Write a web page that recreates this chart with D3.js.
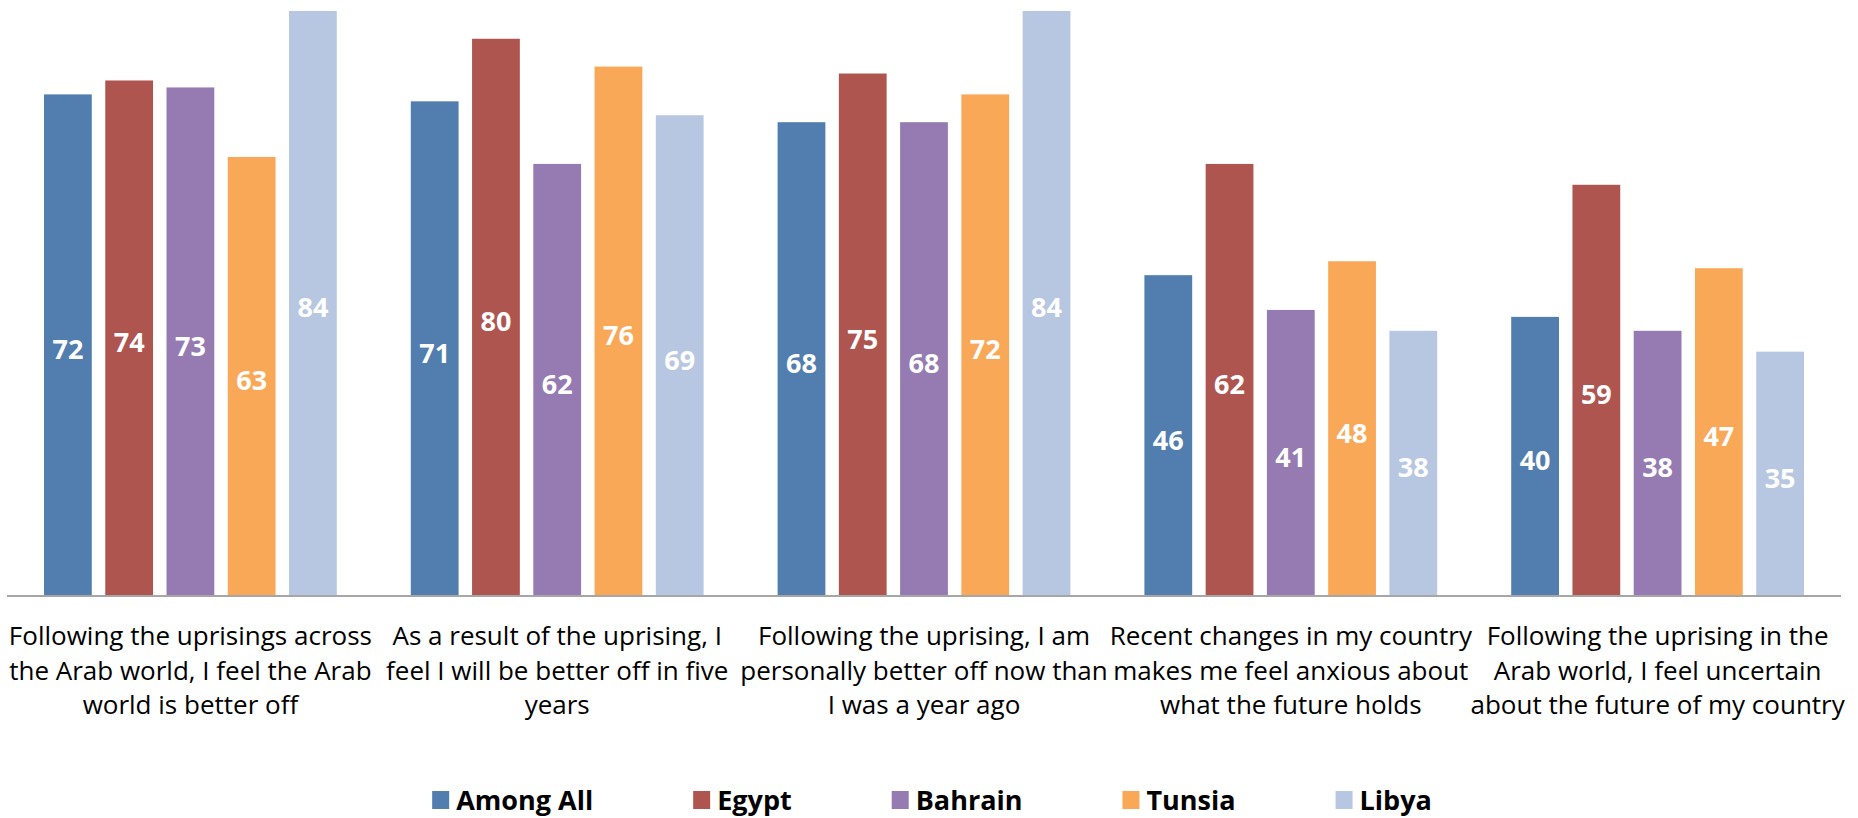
<!DOCTYPE html>
<html>
<head>
<meta charset="utf-8">
<script src="https://cdn.jsdelivr.net/npm/d3@7.9.0/dist/d3.min.js"></script>
<style>
  html, body { margin: 0; padding: 0; background: #fff; }
  svg { display: block; }
  .cat { font-family: "Open Sans", sans-serif; font-size: 26px; fill: #000; }
  .val { font-family: "Open Sans", sans-serif; font-weight: 700; font-size: 27px; fill: #fff; }
  .leg { font-family: "Open Sans", sans-serif; font-weight: 700; font-size: 27px; fill: #000; }
</style>
</head>
<body>
<svg width="1858" height="818"></svg>
<script>
// category labels, already wrapped the way the chart shows them
const categories = [
  ["Following the uprisings across", "the Arab world, I feel the Arab", "world is better off"],
  ["As a result of the uprising, I", "feel I will be better off in five", "years"],
  ["Following the uprising, I am", "personally better off now than", "I was a year ago"],
  ["Recent changes in my country", "makes me feel anxious about", "what the future holds"],
  ["Following the uprising in the", "Arab world, I feel uncertain", "about the future of my country"]
];

const seriesNames = ["Among All", "Egypt", "Bahrain", "Tunsia", "Libya"];
const seriesColors = ["#517EAE", "#AE5550", "#957BB1", "#F9A857", "#B8C7E1"];

const amongAll = [72, 71, 68, 46, 40];
const egypt    = [74, 80, 75, 62, 59];
const bahrain  = [73, 62, 68, 41, 38];
const tunsia   = [63, 76, 72, 48, 47];
const libya    = [84, 69, 84, 38, 35];

const seriesValues = [amongAll, egypt, bahrain, tunsia, libya];

const svg = d3.select('svg');

// plot area
const left = 7, right = 1841, baseY = 595, topY = 4;

let x0 = d3.scaleBand()
  .domain(d3.range(categories.length))
  .range([left, right]);

const groupPad = 37;
let x1 = d3.scaleBand()
  .domain(d3.range(seriesNames.length))
  .range([groupPad, x0.bandwidth() - groupPad])
  .paddingInner(0.22);

let y = d3.scaleLinear().domain([0, 85]).range([baseY, topY]);

// bars + labels
categories.forEach((cat, ci) => {
  let g = svg.append('g').attr('transform', `translate(${x0(ci)},0)`);
  seriesValues.forEach((vals, si) => {
    let v = vals[ci];
    g.append('rect')
      .attr('x', x1(si))
      .attr('y', y(v))
      .attr('width', x1.bandwidth())
      .attr('height', y(0) - y(v))
      .attr('fill', seriesColors[si]);
    g.append('text')
      .attr('class', 'val')
      .attr('x', x1(si) + x1.bandwidth() / 2)
      .attr('y', (y(v) + y(0)) / 2 + 4)
      .attr('text-anchor', 'middle')
      .attr('dominant-baseline', 'central')
      .text(v);
  });
});

// axis line
svg.append('line')
  .attr('x1', left).attr('x2', right)
  .attr('y1', baseY + 1).attr('y2', baseY + 1)
  .attr('stroke', '#A6A6A6')
  .attr('stroke-width', 2);

// category labels
categories.forEach((lines, ci) => {
  let cx = x0(ci) + x0.bandwidth() / 2;
  let t = svg.append('text')
    .attr('class', 'cat')
    .attr('text-anchor', 'middle')
    .attr('x', cx);
  lines.forEach((line, li) => {
    t.append('tspan')
      .attr('x', cx)
      .attr('y', 645 + li * 34.5)
      .text(line);
  });
});

// legend, centred under the chart
let legend = svg.append('g');
let lx = 0;
const sw = 17, legGap = 100;
seriesNames.forEach((name, i) => {
  let item = legend.append('g').attr('transform', `translate(${lx},0)`);
  item.append('rect')
    .attr('x', 0).attr('y', -9)
    .attr('width', sw).attr('height', 18)
    .attr('fill', seriesColors[i]);
  let t = item.append('text')
    .attr('class', 'leg')
    .attr('x', sw + 7)
    .attr('y', 10)
    .text(name);
  lx += sw + 7 + t.node().getComputedTextLength() + legGap;
});
let legW = lx - legGap;
legend.attr('transform', `translate(${(left + right) / 2 - legW / 2 + 8},800)`);
</script>
</body>
</html>
